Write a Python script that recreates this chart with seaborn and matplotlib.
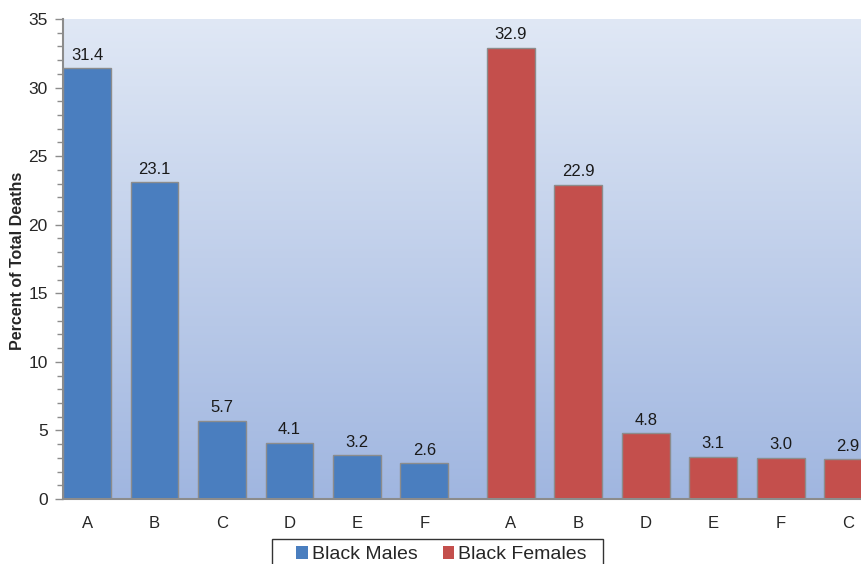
import numpy as np
import pandas as pd
import matplotlib.pyplot as plt
import seaborn as sns
from matplotlib.patches import Patch, Rectangle

male_labels = ['A', 'B', 'C', 'D', 'E', 'F']
male_values = [31.4, 23.1, 5.7, 4.1, 3.2, 2.6]
female_labels = ['A', 'B', 'D', 'E', 'F', 'C']
female_values = [32.9, 22.9, 4.8, 3.1, 3.0, 2.9]
groups = ['Black Males', 'Black Females']
colors = ['#4A7EBF', '#C44F4C']

# x positions: males 0..5, females shifted a bit after a gap
male_pos = np.arange(len(male_labels)).astype(float)
female_pos = np.arange(len(female_labels)) + 6.28

df = pd.DataFrame({
    'pos': np.concatenate([male_pos, female_pos]),
    'value': male_values + female_values,
    'group': [groups[0]] * len(male_values) + [groups[1]] * len(female_values),
})

sns.set_style("white")
plt.rcParams['font.family'] = ['Liberation Sans', 'DejaVu Sans']

fig = plt.figure(figsize=(8.61, 5.64), dpi=100)
ax = fig.add_axes([0.0732, 0.1152, 0.9268, 0.8511])

# gradient background
grad = np.linspace(0, 1, 256).reshape(-1, 1)
top = np.array([224, 232, 245]) / 255
bot = np.array([160, 182, 224]) / 255
img = top + (bot - top) * grad[:, :, None] * np.ones((1, 1, 3))
ax.imshow(img, extent=[-0.356, 11.47, 0, 35], aspect='auto', zorder=0, origin='upper')

sns.barplot(data=df, x='pos', y='value', hue='group', native_scale=True, dodge=False,
            width=0.71, palette=colors, saturation=1, edgecolor='#8C8C8C', linewidth=1.0,
            ax=ax, legend=False, zorder=2)

for c in ax.containers:
    ax.bar_label(c, fmt='%.1f', padding=4, fontsize=12, color='#1a1a1a')

ax.set_xlim(-0.356, 11.47)
ax.set_ylim(0, 35)
ax.set_yticks(range(0, 36, 5))
ax.set_yticks(range(0, 36), minor=True)
ax.set_xticks(np.concatenate([male_pos, female_pos]))
ax.set_xticklabels(male_labels + female_labels)
ax.tick_params(axis='y', which='major', length=6, width=1, color='#8C8C8C', labelsize=12.5, left=True, pad=5)
ax.tick_params(axis='y', which='minor', length=4, width=1, color='#8C8C8C', left=True)
ax.tick_params(axis='x', length=0, labelsize=12, pad=12)
ax.set_xlabel('')
ax.set_ylabel('Percent of Total Deaths', fontsize=11.5, fontweight='bold')
ax.yaxis.set_label_coords(-0.0476, 0.496)

for s in ['top', 'right']:
    ax.spines[s].set_visible(False)
for s in ['left', 'bottom']:
    ax.spines[s].set_color('#8C8C8C')
    ax.spines[s].set_linewidth(1.5)

# legend box (runs off the bottom edge like the original)
fig.patches.append(Rectangle((0.3159, -0.02), 0.3845, 0.0643, transform=fig.transFigure,
                             facecolor='white', edgecolor='#333333', linewidth=1.0))
handles = [Patch(facecolor=colors[0], edgecolor='none'), Patch(facecolor=colors[1], edgecolor='none')]
leg = fig.legend(handles, groups, loc='center', bbox_to_anchor=(0.5128, 0.0165), ncol=2,
                 fontsize=14, frameon=False, handlelength=0.6, handleheight=0.6,
                 handletextpad=0.2, columnspacing=1.3, borderpad=0, borderaxespad=0)

fig.savefig('out.png', dpi=100)
